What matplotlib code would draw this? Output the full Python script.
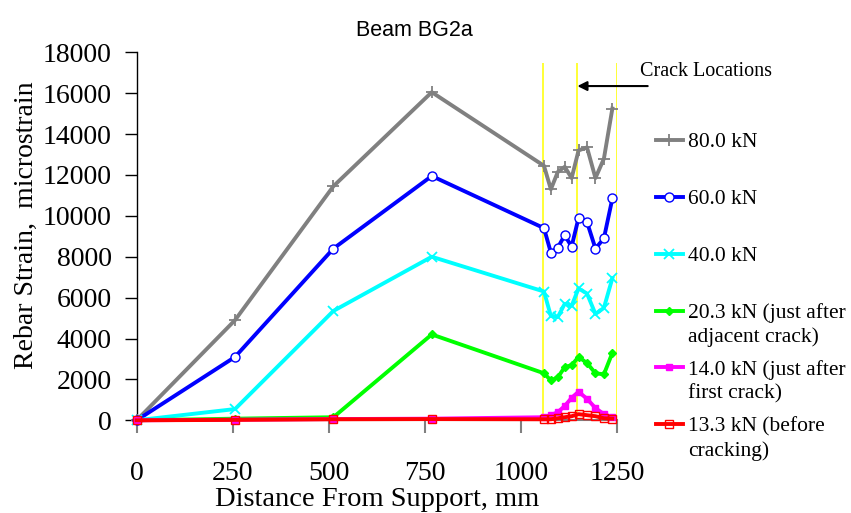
import matplotlib
matplotlib.use('Agg')
import matplotlib.pyplot as plt

# ---- data ----
distance_mm = [0, 256, 512, 768, 1060, 1078, 1096, 1114, 1132, 1150, 1172, 1194, 1216, 1238]
strain_80 = [0, 4900, 11450, 16050, 12450, 11300, 12150, 12400, 11850, 13200, 13350, 11850, 12800, 15250]
strain_60 = [0, 3100, 8400, 11950, 9400, 8200, 8450, 9050, 8500, 9900, 9700, 8400, 8900, 10850]
strain_40 = [0, 550, 5350, 8000, 6300, 5100, 5050, 5700, 5600, 6450, 6200, 5200, 5500, 6950]
strain_203 = [0, 80, 150, 4200, 2300, 1950, 2100, 2600, 2700, 3100, 2800, 2300, 2250, 3300]
strain_140 = [0, 30, 60, 80, 150, 250, 400, 700, 1100, 1400, 1050, 600, 300, 150]
strain_133 = [0, 20, 50, 60, 50, 50, 100, 150, 200, 300, 250, 200, 100, 80]

crack_locations = [1058, 1147, 1249]
crack_line_top = 17500
arrow_level = 16350

series_labels = ["80.0 kN", "60.0 kN", "40.0 kN",
                 "20.3 kN (just after", "14.0 kN (just after", "13.3 kN (before"]
label_second_lines = {3: "adjacent crack)", 4: "first crack)", 5: "cracking)"}

x_ticks = [0, 250, 500, 750, 1000, 1250]
y_ticks = list(range(0, 18001, 2000))

SERIF = ['Liberation Serif', 'DejaVu Serif']
SANS = ['Liberation Sans', 'DejaVu Sans']

fig = plt.figure(figsize=(8.51, 5.13), dpi=100)
ax = fig.add_axes([0.1606, 0.1807, 0.7250 - 0.1606, 0.898 - 0.1807])

# crack location lines
ax.vlines(crack_locations, 0, crack_line_top, colors='#FFFF00', linewidth=1.1, zorder=1)

lw = 2.8
styles = [
    dict(color='#808080', marker='+', ms=8, mew=1.3, mfc='#808080', mec='#808080'),
    dict(color='#0000FF', marker='o', ms=6.5, mew=1.0, mfc='white', mec='#0000FF'),
    dict(color='#00FFFF', marker='x', ms=6.5, mew=1.3, mfc='#00FFFF', mec='#00FFFF'),
    dict(color='#00FF00', marker='D', ms=4.5, mew=1.0, mfc='#00FF00', mec='#00FF00'),
    dict(color='#FF00FF', marker='s', ms=4.5, mew=1.0, mfc='#FF00FF', mec='#FF00FF'),
    dict(color='#FF0000', marker='s', ms=6, mew=1.0, mfc='none', mec='#FF0000'),
]
all_series = [strain_80, strain_60, strain_40, strain_203, strain_140, strain_133]
handles = []
for i, (vals, st, lab) in enumerate(zip(all_series, styles, series_labels)):
    h, = ax.plot(distance_mm, vals, linewidth=lw, label=lab, clip_on=False,
                 zorder=3 + i, **st)
    handles.append(h)

ax.set_xlim(0, 1250)
ax.set_ylim(0, 18000)
ax.set_xticks(x_ticks)
ax.set_yticks(y_ticks)
ax.set_xticklabels([str(t) for t in x_ticks], fontfamily=SERIF, fontsize=20)
ax.set_yticklabels([str(t) for t in y_ticks], fontfamily=SERIF, fontsize=20)

for s in ['top', 'right']:
    ax.spines[s].set_visible(False)
ax.spines['left'].set_color('black')
ax.spines['left'].set_linewidth(1.0)
ax.spines['bottom'].set_color('#808080')
ax.spines['bottom'].set_linewidth(1.5)
ax.tick_params(axis='x', direction='out', length=9, width=1.5, color='#808080', pad=20)
ax.tick_params(axis='y', direction='out', length=9, width=1.0, color='black', pad=9)

ax.set_xlabel("Distance From Support, mm", fontfamily=SERIF, fontsize=20.5, labelpad=1)
ax.set_ylabel("Rebar Strain,  microstrain", fontfamily=SERIF, fontsize=20)
ax.yaxis.set_label_coords(-0.203, 0.53)

fig.text(414 / 851, 1 - 31 / 513, "Beam BG2a", ha='center', va='center',
         fontfamily=SANS, fontsize=15.5)

# crack locations arrow + label
ax.annotate("", xy=(crack_locations[1], arrow_level), xytext=(1330, arrow_level),
            arrowprops=dict(arrowstyle='-|>', color='black', lw=1.5,
                            mutation_scale=14, shrinkA=0, shrinkB=0),
            annotation_clip=False)
fig.text(640 / 851, 1 - 76 / 513, "Crack Locations", ha='left', va='baseline',
         fontfamily=SERIF, fontsize=14.5)

leg = fig.legend(handles=handles, loc='upper left', bbox_to_anchor=(0.7705, 0.742),
                 frameon=False, prop=dict(family=SERIF, size=15.5),
                 handlelength=1.25, handletextpad=0.25, borderpad=0,
                 borderaxespad=0, labelspacing=1.71, numpoints=1)

texts = leg.get_texts()
for idx, second in label_second_lines.items():
    ann = matplotlib.text.Annotation(second, xy=(0, 0), xycoords=texts[idx],
                                     xytext=(0, -13.5), textcoords='offset points',
                                     ha='left', va='baseline',
                                     fontfamily=SERIF, fontsize=15.5)
    ann.set_zorder(10)
    fig.add_artist(ann)

fig.canvas.draw()
fig.savefig('out.png', dpi=100)
